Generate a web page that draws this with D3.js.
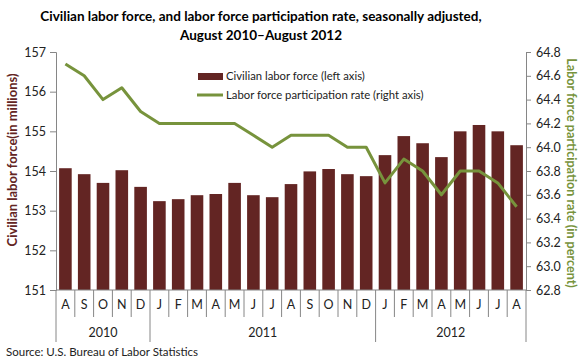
<!DOCTYPE html>
<html>
<head>
<meta charset="utf-8">
<script src="https://cdn.jsdelivr.net/npm/d3@7"></script>
<style>
  body { margin: 0; background: #fff; }
  svg { font-family: Lato, "Open Sans", sans-serif; }
</style>
</head>
<body>
<svg id="chart" width="583" height="363"></svg>
<script>
// months Aug 2010 - Aug 2012
var months = ['A','S','O','N','D','J','F','M','A','M','J','J','A','S','O','N','D','J','F','M','A','M','J','J','A'];
var years = [
  {label: '2010', from: 0, to: 5},
  {label: '2011', from: 5, to: 17},
  {label: '2012', from: 17, to: 25}
];
var laborForce = [154.07, 153.92, 153.70, 154.02, 153.60, 153.24, 153.29, 153.39, 153.42, 153.70, 153.39, 153.34, 153.67,
                  153.99, 154.05, 153.92, 153.87, 154.40, 154.88, 154.70, 154.35, 155.00, 155.16, 155.00, 154.65];
var partRate = [64.7, 64.6, 64.4, 64.5, 64.3, 64.2, 64.2, 64.2, 64.2, 64.2, 64.1, 64.0, 64.1,
                64.1, 64.1, 64.0, 64.0, 63.7, 63.9, 63.8, 63.6, 63.8, 63.8, 63.7, 63.5];
var leftTicks = [151, 152, 153, 154, 155, 156, 157];
var rightTicks = [62.8, 63.0, 63.2, 63.4, 63.6, 63.8, 64.0, 64.2, 64.4, 64.6, 64.8];

var barColor = '#632523';
var lineColor = '#77933c';
var axisColor = '#868686';

var plotL = 56, plotR = 526, plotT = 52, plotB = 290;

var svg = d3.select('#chart');

var x = d3.scaleBand()
    .domain(d3.range(months.length))
    .range([plotL, plotR])
    .paddingInner(0.33)
    .paddingOuter(0.165);

var step = (plotR - plotL) / months.length;

var yL = d3.scaleLinear().domain([151, 157]).range([plotB, plotT]);
var yR = d3.scaleLinear().domain([62.8, 64.8]).range([plotB, plotT]);

// title
svg.append('text')
    .attr('x', 261).attr('y', 21)
    .attr('text-anchor', 'middle')
    .attr('font-weight', 'bold').attr('font-size', 13.5)
    .text('Civilian labor force, and labor force participation rate, seasonally adjusted,');
svg.append('text')
    .attr('x', 261).attr('y', 40)
    .attr('text-anchor', 'middle')
    .attr('font-weight', 'bold').attr('font-size', 13.5)
    .text('August 2010\u2013August 2012');

// bars
svg.selectAll('rect.bar')
    .data(laborForce)
    .enter()
    .append('rect')
    .attr('class', 'bar')
    .attr('x', function (d, i) { return x(i); })
    .attr('width', x.bandwidth())
    .attr('y', function (d) { return yL(d); })
    .attr('height', function (d) { return yL(151) - yL(d); })
    .attr('fill', barColor);

// line
var line = d3.line()
    .x(function (d, i) { return x(i) + x.bandwidth() / 2; })
    .y(function (d) { return yR(d); });

svg.append('path')
    .datum(partRate)
    .attr('d', line)
    .attr('fill', 'none')
    .attr('stroke', lineColor)
    .attr('stroke-width', 3)
    .attr('stroke-linejoin', 'round');

// left axis
var gL = svg.append('g')
    .attr('transform', 'translate(' + plotL + ',0)')
    .call(d3.axisLeft(yL).tickValues(leftTicks).tickFormat(d3.format('d')).tickSize(6).tickSizeOuter(6));
// right axis
var gR = svg.append('g')
    .attr('transform', 'translate(' + plotR + ',0)')
    .call(d3.axisRight(yR).tickValues(rightTicks).tickFormat(d3.format('.1f')).tickSize(5).tickSizeOuter(5));

[gL, gR].forEach(function (g) {
    g.select('.domain').attr('stroke', axisColor);
    g.selectAll('.tick line').attr('stroke', axisColor);
    g.selectAll('.tick text')
        .attr('fill', '#222')
        .attr('font-size', 12.5)
        .attr('font-family', 'Lato, sans-serif');
});
gL.selectAll('.tick text').attr('x', -10);
gR.selectAll('.tick text').attr('x', 10);

// bottom axis line
svg.append('line')
    .attr('x1', plotL).attr('x2', plotR)
    .attr('y1', plotB).attr('y2', plotB)
    .attr('stroke', axisColor);

// month separators
var yearStarts = years.map(function (y) { return y.from; }).concat([months.length]);
d3.range(months.length + 1).forEach(function (i) {
    var isYear = yearStarts.indexOf(i) >= 0;
    svg.append('line')
        .attr('x1', plotL + i * step).attr('x2', plotL + i * step)
        .attr('y1', plotB).attr('y2', isYear ? 342 : 317)
        .attr('stroke', axisColor);
});

svg.selectAll('text.month')
    .data(months)
    .enter()
    .append('text')
    .attr('class', 'month')
    .attr('x', function (d, i) { return plotL + (i + 0.5) * step; })
    .attr('y', 309)
    .attr('text-anchor', 'middle')
    .attr('font-size', 12.5)
    .attr('fill', '#222')
    .text(function (d) { return d; });

svg.selectAll('text.year')
    .data(years)
    .enter()
    .append('text')
    .attr('class', 'year')
    .attr('x', function (d) { return plotL + (d.from + d.to) / 2 * step; })
    .attr('y', 337)
    .attr('text-anchor', 'middle')
    .attr('font-size', 12.5)
    .attr('fill', '#222')
    .text(function (d) { return d.label; });

// axis titles
svg.append('text')
    .attr('transform', 'translate(17,160) rotate(-90)')
    .attr('text-anchor', 'middle')
    .attr('font-weight', 'bold').attr('font-size', 13)
    .attr('fill', barColor)
    .text('Civilian labor force(in millions)');
svg.append('text')
    .attr('transform', 'translate(567,173) rotate(90)')
    .attr('text-anchor', 'middle')
    .attr('font-weight', 'bold').attr('font-size', 12.6)
    .attr('fill', lineColor)
    .text('Labor force participation rate (in percent)');

// legend
var lg = svg.append('g');
lg.append('rect')
    .attr('x', 198).attr('y', 73).attr('width', 25).attr('height', 7)
    .attr('fill', barColor);
lg.append('text')
    .attr('x', 226).attr('y', 80)
    .attr('font-size', 11.3).attr('fill', '#222')
    .text('Civilian labor force (left axis)');
lg.append('line')
    .attr('x1', 197).attr('x2', 223).attr('y1', 95).attr('y2', 95)
    .attr('stroke', lineColor).attr('stroke-width', 3);
lg.append('text')
    .attr('x', 226).attr('y', 99)
    .attr('font-size', 11.3).attr('fill', '#222')
    .text('Labor force participation rate (right axis)');

// source
svg.append('text')
    .attr('x', 6).attr('y', 356)
    .attr('font-size', 11.5).attr('fill', '#222')
    .text('Source: U.S. Bureau of Labor Statistics');
</script>
</body>
</html>
